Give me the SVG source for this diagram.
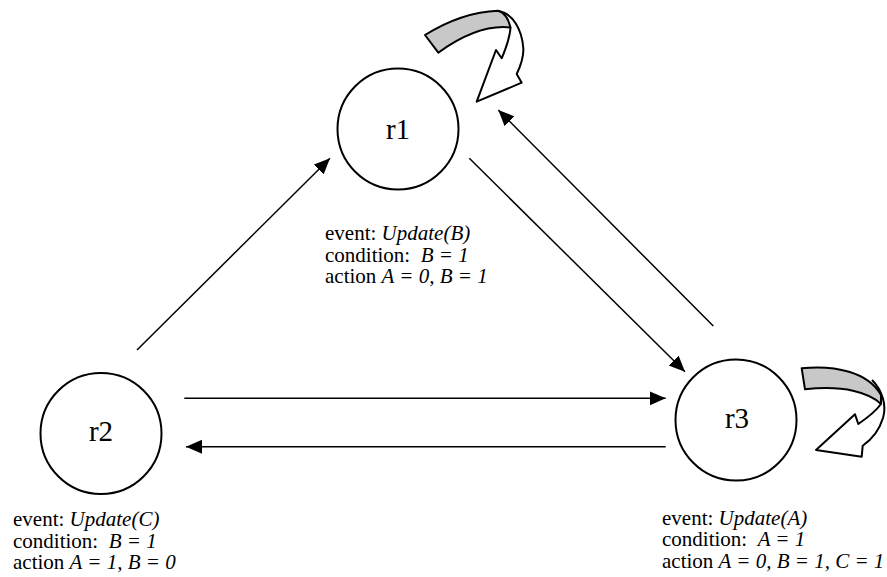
<svg xmlns="http://www.w3.org/2000/svg" width="887" height="577" viewBox="0 0 887 577">
  <style>
    .state { fill: #fff; stroke: #000; stroke-width: 2; }
    .name { font-family: "Liberation Serif", "Times New Roman", serif; font-size: 29px; text-anchor: middle; fill: #000; }
    .label { font-family: "Liberation Serif", "Times New Roman", serif; font-size: 21px; fill: #000; white-space: pre; }
    .it { font-style: italic; }
    .edge { fill: none; stroke: #000; stroke-width: 1.5; }
    .loop-back { fill: #fff; stroke: #000; stroke-width: 2; stroke-linejoin: round; }
    .loop-top { fill: #c8c8c8; stroke: #000; stroke-width: 2; stroke-linejoin: round; }
  </style>
  <defs>
    <marker id="head" markerUnits="userSpaceOnUse" markerWidth="17" markerHeight="15" refX="16" refY="7" orient="auto">
      <path d="M0,0 L16,7 L0,14 Z" fill="#000"/>
    </marker>
  </defs>

  <rect width="887" height="577" fill="#fff"/>

  <!-- transitions between states -->
  <g id="connectors">
    <line class="edge" x1="137" y1="350" x2="330" y2="158.3" marker-end="url(#head)"/>
    <line class="edge" x1="469.3" y1="158.3" x2="685" y2="371.7" marker-end="url(#head)"/>
    <line class="edge" x1="713.3" y1="326" x2="498.3" y2="110" marker-end="url(#head)"/>
    <line class="edge" x1="184.3" y1="398.3" x2="665.7" y2="398.3" marker-end="url(#head)"/>
    <line class="edge" x1="665.7" y1="446.7" x2="186" y2="446.7" marker-end="url(#head)"/>
  </g>

  <!-- self-loop on r1 -->
  <g id="loop-r1">
    <path class="loop-back" d="M498,11 C513,13 522,30 523.3,48 C524,58 520,67 516.7,74 L521.7,82.7 L476.7,101.7 L496,50 L501.7,58.3 C506,48 510,38 510.5,27.5"/>
    <path class="loop-top" d="M425,35 Q462,12 498,10.7 Q507,13 510.5,27.5 Q478,24 438.3,52.7 Z"/>
  </g>

  <!-- self-loop on r3 -->
  <g id="loop-r3">
    <path class="loop-back" d="M872,380 C882,390 887,405 883,418 C879,431 871,440 862.7,445.7 L861.7,456.7 L816,450 L855,414.3 L858.3,424 C867,418 876,411 881,404"/>
    <path class="loop-top" d="M801.7,368.3 C835,365 868,372 881,395 L881,404 C870,393 845,385 805,389.3 Z"/>
  </g>

  <g id="r1">
    <circle class="state" cx="398" cy="129" r="60.5"/>
    <text class="name" x="398" y="139">r1</text>
    <text class="label" x="325" y="240">event: <tspan class="it">Update(B)</tspan></text>
    <text class="label" x="325" y="261.5">condition:  <tspan class="it">B = 1</tspan></text>
    <text class="label" x="325" y="283">action <tspan class="it">A = 0, B = 1</tspan></text>
  </g>

  <g id="r2">
    <circle class="state" cx="101" cy="433.5" r="60.5"/>
    <text class="name" x="101" y="441">r2</text>
    <text class="label" x="13" y="526">event: <tspan class="it">Update(C)</tspan></text>
    <text class="label" x="13" y="547.5">condition:  <tspan class="it">B = 1</tspan></text>
    <text class="label" x="13" y="569">action <tspan class="it">A = 1, B = 0</tspan></text>
  </g>

  <g id="r3">
    <circle class="state" cx="736" cy="420" r="60.5"/>
    <text class="name" x="737" y="428">r3</text>
    <text class="label" x="662" y="524.5">event: <tspan class="it">Update(A)</tspan></text>
    <text class="label" x="662" y="546">condition:  <tspan class="it">A = 1</tspan></text>
    <text class="label" x="662" y="567.5">action <tspan class="it">A = 0, B = 1, C = 1</tspan></text>
  </g>
</svg>
